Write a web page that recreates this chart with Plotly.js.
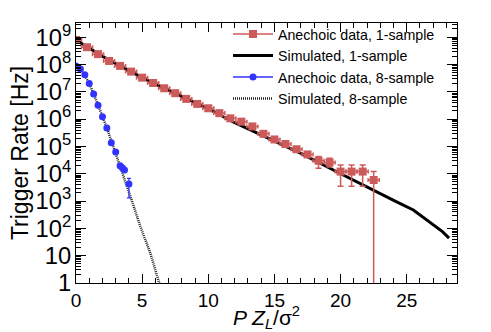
<!DOCTYPE html>
<html>
<head>
<meta charset="utf-8">
<script src="https://cdn.plot.ly/plotly-3.0.1.min.js"></script>
<style>
  html, body { margin: 0; padding: 0; background: #fff; }
  #chart { width: 491px; height: 332px; }
</style>
</head>
<body>
<div id="chart"></div>
<script>
// anechoic data, 1-sample (bin centres)
var x1Data = [0, 0.833, 1.667, 2.5, 3.333, 4.167, 5, 5.833, 6.667, 7.5, 8.333, 9.167, 10, 10.833,
              11.667, 12.5, 13.333, 14.167, 15, 15.833, 16.667, 17.5, 18.333, 19.167, 20, 20.833, 21.667, 22.5];
var y1Data = [7.9e8, 4.3e8, 2.4e8, 1.35e8, 8.9e7, 5.5e7, 3.3e7, 2.1e7, 1.35e7, 8.9e6, 5.5e6, 3.6e6, 2.5e6, 1.66e6,
              1.07e6, 8.1e5, 5.4e5, 2.9e5, 1.8e5, 1.23e5, 7.9e4, 5.1e4, 3.0e4, 2.6e4, 1.2e4, 1.2e4, 1.2e4, 5.9e3];
var y1ErrUp = [0, 0, 0, 0, 0, 0, 0, 0, 0, 0, 0, 0, 0, 0,
               0, 0, 0, 0, 0, 0, 0, 0, 1.3e4, 1.1e4, 0.9e4, 0.9e4, 0.9e4, 6.1e3];
var y1ErrDn = [0, 0, 0, 0, 0, 0, 0, 0, 0, 0, 0, 0, 0, 0,
               0, 0, 0, 0, 0, 0, 0, 0, 1.4e4, 0.85e4, 0.85e4, 0.85e4, 0.85e4, 5.9e3];

// simulated, 1-sample
var x1Sim = [0, 2, 4, 6, 8, 10, 12, 14.5, 17, 19.6, 22.1, 23.3, 24.2, 25.5, 26.7, 27.7, 28.2];
var y1Sim = [7.9e8, 2.0e8, 6.0e7, 1.9e7, 6.8e6, 2.4e6, 7.4e5, 2.0e5, 5.6e4, 1.26e4, 3.0e3, 1.55e3, 955, 470, 178, 76, 44];

// anechoic data, 8-sample
var x8Data = [0, 0.333, 0.667, 1, 1.333, 1.667, 2, 2.333, 2.667, 3, 3.333, 3.5, 3.667, 4];
var y8Data = [8.9e7, 6.8e7, 4.2e7, 2.0e7, 8.3e6, 3.2e6, 1.23e6, 4.7e5, 1.38e5, 6.2e4, 1.95e4, 1.66e4, 1.38e4, 4.2e3];
var y8ErrUp = [0, 0, 0, 0, 0, 0, 0, 0, 0, 0, 0, 0, 0, 2.6e3];
var y8ErrDn = [0, 0, 0, 0, 0, 0, 0, 0, 0, 0, 0, 0, 0, 2.9e3];

// simulated, 8-sample
var x8Sim = [0, 0.333, 0.667, 1, 1.333, 1.667, 2, 2.333, 2.667, 3, 3.333, 3.667, 4.12, 4.87, 5.62, 6.35];
var y8Sim = [9.5e7, 6.6e7, 4.0e7, 2.0e7, 8.5e6, 3.3e6, 1.26e6, 4.8e5, 1.6e5, 5.6e4, 2.0e4, 6.5e3, 1.45e3, 115, 12.3, 0.8];

var RED = '#cc5a5a';
var BLUE = '#3333ff';
var FONT = 'Liberation Sans, Arial, sans-serif';

var sim8 = {
    x: x8Sim, y: y8Sim, mode: 'lines', showlegend: false,
    line: { color: '#222', width: 2.5, dash: '1px,1px' }
};
var sim1 = {
    x: x1Sim, y: y1Sim, mode: 'lines', showlegend: false,
    line: { color: 'black', width: 3 }
};
var data1 = {
    x: x1Data, y: y1Data, mode: 'markers', showlegend: false,
    marker: { symbol: 'square', size: 8, color: RED },
    error_x: { type: 'constant', value: 0.42, color: RED, thickness: 1.5, width: 2 },
    error_y: { type: 'data', array: y1ErrUp, arrayminus: y1ErrDn, color: RED, thickness: 1.5, width: 3 }
};
var data8 = {
    x: x8Data, y: y8Data, mode: 'markers', showlegend: false,
    marker: { symbol: 'circle', size: 7, color: BLUE },
    error_x: { type: 'constant', value: 0.12, color: BLUE, thickness: 1, width: 1 },
    error_y: { type: 'data', array: y8ErrUp, arrayminus: y8ErrDn, color: BLUE, thickness: 1.2, width: 2 }
};

// legend entries
var leg1 = { x: [null], y: [null], mode: 'lines+markers', name: 'Anechoic data, 1-sample',
    line: { color: RED, width: 1.5 }, marker: { symbol: 'square', size: 8, color: RED } };
var leg2 = { x: [null], y: [null], mode: 'lines', name: 'Simulated, 1-sample',
    line: { color: 'black', width: 3 } };
var leg3 = { x: [null], y: [null], mode: 'lines+markers', name: 'Anechoic data, 8-sample',
    line: { color: BLUE, width: 1.5 }, marker: { symbol: 'circle', size: 7, color: BLUE } };
var leg4 = { x: [null], y: [null], mode: 'lines', name: 'Simulated, 8-sample',
    line: { color: '#222', width: 2.5, dash: '1px,1px' } };

var layout = {
    width: 491, height: 332,
    margin: { l: 76, r: 34, t: 23, b: 49 },
    paper_bgcolor: 'white', plot_bgcolor: 'white',
    font: { family: FONT, color: 'black' },
    showlegend: true,
    legend: {
        x: 0.399, y: 1.018, xanchor: 'left', yanchor: 'top',
        bgcolor: 'rgba(0,0,0,0)', font: { size: 14.2, family: FONT },
        itemwidth: 40, tracegroupgap: 0
    },
    xaxis: {
        range: [0, 28.8], showgrid: false, zeroline: false,
        showline: true, linecolor: 'black', linewidth: 1, mirror: 'ticks',
        ticks: 'inside', ticklen: 9, tickcolor: 'black', dtick: 5,
        tickfont: { size: 19 },
        minor: { ticks: 'inside', ticklen: 5, dtick: 1, tickcolor: 'black' },
        title: { text: '<i>P Z</i><sub><i>L</i></sub>/σ<sup>2</sup>', font: { size: 21 }, standoff: 0 }
    },
    yaxis: {
        type: 'log', range: [0, 9.52], showgrid: false, zeroline: false,
        showline: true, linecolor: 'black', linewidth: 1, mirror: 'ticks',
        ticks: 'inside', ticklen: 10, tickcolor: 'black', dtick: 1,
        exponentformat: 'power', tickfont: { size: 19 },
        minor: { ticks: 'inside', ticklen: 5, tickcolor: 'black' },
        title: { text: 'Trigger Rate [Hz]', font: { size: 23 }, standoff: 0 }
    }
};

Plotly.newPlot('chart', [sim8, sim1, data1, data8, leg1, leg2, leg3, leg4], layout, { displayModeBar: false });
</script>
</body>
</html>
